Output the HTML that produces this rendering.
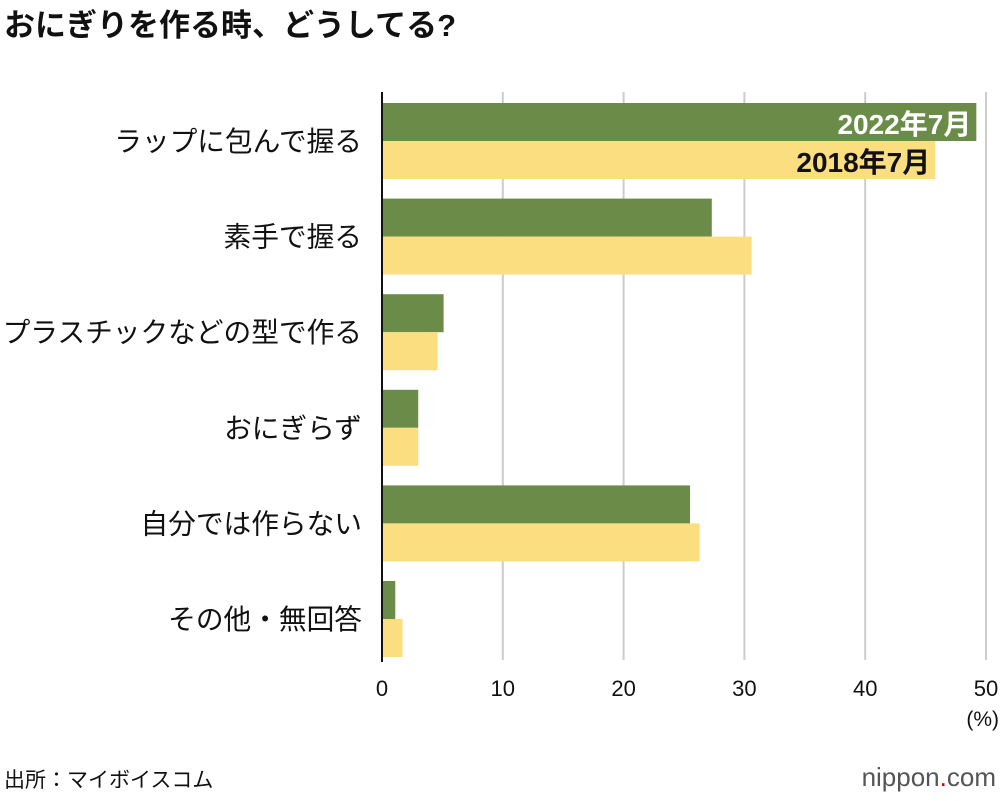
<!DOCTYPE html>
<html><head><meta charset="utf-8"><style>
body{margin:0;background:#fff;width:1000px;height:796px;overflow:hidden;font-family:"Liberation Sans","Noto Sans CJK JP",sans-serif;}
</style></head><body>
<svg width="1000" height="796" xmlns="http://www.w3.org/2000/svg" font-family="Liberation Sans, Noto Sans CJK JP, sans-serif">
<text x="4" y="36" font-size="31" font-weight="bold" fill="#111">おにぎりを作る時、どうしてる?</text>
<g id="grid"></g><g id="bars"></g><g id="labels"></g><g id="ticks"></g>
<text x="999" y="726" font-size="21" text-anchor="end" fill="#111">(%)</text>
<text x="4" y="787" font-size="21" fill="#111">出所：マイボイスコム</text>
<text x="996" y="786" font-size="26" text-anchor="end" fill="#555">nippon<tspan fill="#c00">.</tspan>com</text>
</svg>
<script>
const categories=["ラップに包んで握る","素手で握る","プラスチックなどの型で作る","おにぎらず","自分では作らない","その他・無回答"];
const s2022=[49.2,27.3,5.1,3.0,25.5,1.1];
const s2018=[45.8,30.6,4.6,3.0,26.3,1.7];
const ticks=[0,10,20,30,40,50];
const NS="http://www.w3.org/2000/svg";
const x=v=>382+v*(604/50);
const gy=i=>103+i*95.6;
function mk(tag,attrs,parent){const e=document.createElementNS(NS,tag);for(const k in attrs)e.setAttribute(k,attrs[k]);document.getElementById(parent).appendChild(e);return e;}
ticks.forEach(t=>{
 if(t>0){const l=mk('line',{x1:x(t),x2:x(t),y1:92,y2:660,stroke:'#ccc','stroke-width':2},'grid');
 
 }
 const tx=mk('text',{x:x(t),y:696,'font-size':22,'text-anchor':'middle',fill:'#111'},'ticks');tx.textContent=t;
 
 
});
categories.forEach((c,i)=>{
 const y=gy(i);
 const a=mk('rect',{x:x(0),y:y,width:x(s2022[i])-x(0),height:38,fill:'#6a8c48'},'bars');
 
 
 const b=mk('rect',{x:x(0),y:y+38,width:x(s2018[i])-x(0),height:38,fill:'#fbde80'},'bars');
 
 
 const t=mk('text',{x:362,y:y+48,'font-size':27.7,'text-anchor':'end',fill:'#111'},'labels');t.textContent=c;
 
 
});
const ax=mk('line',{x1:382,x2:382,y1:92,y2:662,stroke:'#111','stroke-width':2},'ticks');


const l1=mk('text',{x:x(s2022[0])-5,y:gy(0)+31,'font-size':28,'font-weight':'bold','text-anchor':'end',fill:'#fff'},'labels');l1.textContent='2022年7月';


const l2=mk('text',{x:x(s2018[0])-5,y:gy(0)+69,'font-size':28,'font-weight':'bold','text-anchor':'end',fill:'#111'},'labels');l2.textContent='2018年7月';


</script>
</body></html>
